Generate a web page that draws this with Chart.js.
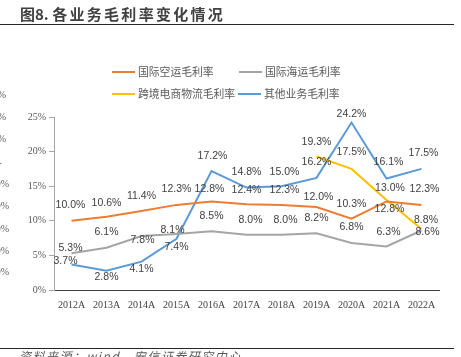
<!DOCTYPE html>
<html><head><meta charset="utf-8">
<script src="https://cdn.jsdelivr.net/npm/chart.js@4"></script>
<style>
html,body{margin:0;padding:0;background:#fff;overflow:hidden;width:461px;height:357px;}
#wrap{position:relative;width:461px;height:357px;overflow:hidden;background:#fff;}
canvas{position:absolute;left:0;top:0;}
.t{position:absolute;white-space:nowrap;}
.rem{position:absolute;left:-30px;width:30px;text-align:right;font:10px "Liberation Serif";color:#595959;line-height:12px;}
.hl{position:absolute;left:0;width:454px;height:1px;background:#262626;}
</style></head><body>
<div id="wrap">
<canvas id="c" width="461" height="357"></canvas>
<div class="t" style="left:20px;top:5px;font:bold 15px 'Noto Sans CJK SC';line-height:18px;color:#404040;letter-spacing:2.3px;"><span style="letter-spacing:0">图8. </span>各业务毛利率变化情况</div>
<div class="hl" style="top:24px;"></div>
<div class="hl" style="top:348px;"></div>
<div class="t" style="left:19px;top:349px;font:italic 12px 'Noto Sans CJK SC';line-height:14px;color:#595959;letter-spacing:1.5px;">资料来源：wind，安信证券研究中心</div>
<div class="rem" style="top:89px;left:-24px;">%</div>
<div class="rem" style="top:111px;left:-24px;">%</div>
<div class="rem" style="top:133px;left:-24px;">%</div>
<div class="rem" style="top:155px;left:-28px;">.</div>
<div class="rem" style="top:178px;left:-21px;">0%</div>
<div class="rem" style="top:200px;left:-21px;">0%</div>
<div class="rem" style="top:223px;left:-21px;">0%</div>
<div class="rem" style="top:245px;left:-21px;">0%</div>
<div class="rem" style="top:266px;left:-21px;">0%</div>
</div>
<script>
// ---- data ----
const categories = ['2012A','2013A','2014A','2015A','2016A','2017A','2018A','2019A','2020A','2021A','2022A'];
const seriesNames = ['国际空运毛利率','国际海运毛利率','跨境电商物流毛利率','其他业务毛利率'];
const airFreight  = [10.0,10.6,11.4,12.3,12.8,12.4,12.3,12.0,10.3,12.8,12.3];
const seaFreight  = [5.3,6.1,7.8,8.1,8.5,8.0,8.0,8.2,6.8,6.3,8.6];
const crossBorder = [null,null,null,null,null,null,null,19.3,17.5,13.0,8.8];
const otherBiz    = [3.7,2.8,4.1,7.4,17.2,14.8,15.0,16.2,24.2,16.1,17.5];
const yTicks = [0,5,10,15,20,25];

// ---- styles ----
const colors = ['#ED7D31','#A5A5A5','#FFC000','#5B9BD5'];
// label offsets (dx, dy) relative to each point
const labelOffsets = [
  [[-1,-16],[0,-14],[0,-15],[0,-15.5],[-2,-12],[0,-14],[3,-15],[2,-10],[0,-15],[3,8],[3,-15.5]],
  [[-1,-5],[0,-15.5],[1,4],[-4,-4],[0,-15],[4,-15],[4,-15],[0,-15.5],[0,-15.5],[2,-14.7],[6,2]],
  [null,null,null,null,null,null,null,[0,-14.7],[0,-16.5],[3.5,-12],[4.5,-9]],
  [[-6,-3],[0,6],[0,7.5],[0,8.5],[1,-15],[0,-15],[3,-14.5],[0,-15.5],[0,-8],[2,-16],[2,-15.5]]
];
const legendPos = [[112,72],[239,72],[112,94],[238,94]];

const dataLabels = {
  id:'dataLabels',
  afterDatasetsDraw(chart){
    const ctx = chart.ctx;
    ctx.save();
    ctx.font = '10.5px "Liberation Sans"';
    ctx.fillStyle = '#404040';
    ctx.textAlign = 'center';
    ctx.textBaseline = 'middle';
    chart.data.datasets.forEach((ds,i)=>{
      const meta = chart.getDatasetMeta(i);
      meta.data.forEach((pt,j)=>{
        const v = ds.data[j];
        if (v == null) return;
        const off = labelOffsets[i][j] || [0,-15];
        ctx.fillText(v.toFixed(1)+'%', pt.x+off[0], pt.y+off[1]);
      });
    });
    ctx.restore();
  }
};

const customLegend = {
  id:'customLegend',
  afterDraw(chart){
    const ctx = chart.ctx;
    ctx.save();
    ctx.font = '10.8px "Noto Sans CJK SC"';
    ctx.textAlign = 'left';
    ctx.textBaseline = 'middle';
    chart.data.datasets.forEach((ds,i)=>{
      const [x,y] = legendPos[i];
      ctx.strokeStyle = ds.borderColor;
      ctx.lineWidth = 2;
      ctx.beginPath(); ctx.moveTo(x,y); ctx.lineTo(x+23,y); ctx.stroke();
      ctx.fillStyle = '#595959';
      ctx.fillText(ds.label, x+26, y);
    });
    ctx.restore();
  }
};

const seriesData = [airFreight, seaFreight, crossBorder, otherBiz];

new Chart(document.getElementById('c'), {
  type:'line',
  data:{
    labels:categories,
    datasets:seriesData.map((d,i)=>({
      label:seriesNames[i], data:d, borderColor:colors[i], backgroundColor:colors[i],
      borderWidth:2, pointRadius:0, tension:0, fill:false, spanGaps:false
    }))
  },
  options:{
    responsive:false, animation:false, devicePixelRatio:1,
    layout:{padding:{left:0,top:117,right:22,bottom:27}},
    plugins:{legend:{display:false},title:{display:false},tooltip:{enabled:false}},
    scales:{
      x:{
        offset:true,
        grid:{display:false},
        border:{display:true,color:'#404040',width:1},
        ticks:{font:{family:'Liberation Serif',size:10},color:'#404040',padding:1,maxRotation:0,minRotation:0,autoSkip:false},
        afterFit(s){ s.height = 40; }
      },
      y:{
        min:0,max:25,
        afterBuildTicks(s){ s.ticks = yTicks.map(v=>({value:v})); },
        grid:{drawOnChartArea:false,drawTicks:true,tickLength:5,color:'#A6A6A6'},
        border:{display:true,color:'#A6A6A6',width:1},
        ticks:{callback:v=>v+'%',font:{family:'Liberation Serif',size:10},color:'#595959',padding:3},
        afterFit(s){ s.width = 54; }
      }
    }
  },
  plugins:[dataLabels, customLegend]
});
</script>
</body></html>
